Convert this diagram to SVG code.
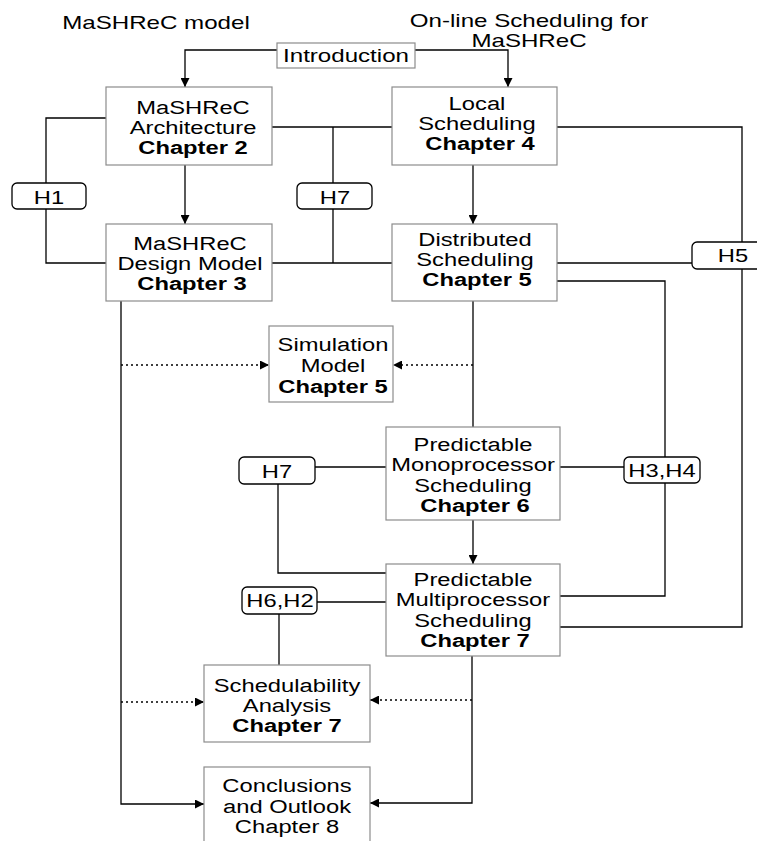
<svg xmlns="http://www.w3.org/2000/svg" width="757" height="841" viewBox="0 0 757 841">
  <style>
    .box { fill: #fff; stroke: #8c8c8c; stroke-width: 1.2; }
    .hyp { fill: #fff; stroke: #000; stroke-width: 1.3; }
    .ln { fill: none; stroke: #000; stroke-width: 1.3; }
    .dot { fill: none; stroke: #000; stroke-width: 1.3; stroke-dasharray: 2 3; }
    text { font-family: "Liberation Sans", Arial, sans-serif; font-size: 18px; fill: #000; text-anchor: middle; }
    .b { font-weight: bold; }
  </style>
  <defs>
    <marker id="arr" viewBox="0 0 10 10" refX="10" refY="5" markerWidth="9" markerHeight="9" markerUnits="userSpaceOnUse" orient="auto">
      <path d="M0,0 L10,5 L0,10 Z" fill="#000"/>
    </marker>
  </defs>

  <rect width="757" height="841" fill="#fff"/>

  <!-- column headings -->
  <g id="headings">
    <text transform="translate(156 29) scale(1.34 1)">MaSHReC model</text>
    <text transform="translate(529 27) scale(1.34 1)">On-line Scheduling for</text>
    <text transform="translate(529 47) scale(1.34 1)">MaSHReC</text>
  </g>

  <!-- connectors -->
  <g id="connectors">
    <!-- introduction to both columns -->
    <polyline class="ln" points="277,50 185,50 185,87" marker-end="url(#arr)"/>
    <polyline class="ln" points="415,50 508,50 508,87" marker-end="url(#arr)"/>
    <!-- chapter 2 -> 3, chapter 4 -> 5 -->
    <line class="ln" x1="185" y1="165" x2="185" y2="224" marker-end="url(#arr)"/>
    <line class="ln" x1="473" y1="165" x2="473" y2="224" marker-end="url(#arr)"/>
    <!-- H1 loop -->
    <polyline class="ln" points="106,118 46,118 46,183"/>
    <polyline class="ln" points="46,209 46,263 106,263"/>
    <!-- H7 upper -->
    <line class="ln" x1="272" y1="127" x2="392" y2="127"/>
    <line class="ln" x1="333" y1="127" x2="333" y2="183"/>
    <line class="ln" x1="333" y1="209" x2="333" y2="263"/>
    <line class="ln" x1="272" y1="263" x2="392" y2="263"/>
    <!-- H5 -->
    <polyline class="ln" points="557,127 742,127 742,242"/>
    <line class="ln" x1="557" y1="263" x2="692" y2="263"/>
    <polyline class="ln" points="742,269 742,627 560,627"/>
    <!-- H3,H4 -->
    <polyline class="ln" points="557,281 665,281 665,457"/>
    <polyline class="ln" points="665,483 665,596 560,596"/>
    <line class="ln" x1="560" y1="467" x2="624" y2="467"/>
    <!-- distributed -> monoprocessor -> multiprocessor -->
    <line class="ln" x1="473" y1="301" x2="473" y2="427"/>
    <line class="ln" x1="473" y1="520" x2="473" y2="564" marker-end="url(#arr)"/>
    <!-- H7 lower -->
    <line class="ln" x1="315" y1="467" x2="386" y2="467"/>
    <polyline class="ln" points="278,484 278,573 386,573"/>
    <!-- H6,H2 -->
    <line class="ln" x1="317" y1="602" x2="386" y2="602"/>
    <line class="ln" x1="279" y1="614" x2="279" y2="665"/>
    <!-- design model column to conclusions -->
    <polyline class="ln" points="121,301 121,804 204,804" marker-end="url(#arr)"/>
    <polyline class="ln" points="472,656 472,803 370,803" marker-end="url(#arr)"/>
    <!-- dotted feeds -->
    <line class="dot" x1="121" y1="365" x2="269" y2="365" marker-end="url(#arr)"/>
    <line class="dot" x1="473" y1="365" x2="393" y2="365" marker-end="url(#arr)"/>
    <line class="dot" x1="121" y1="702" x2="204" y2="702" marker-end="url(#arr)"/>
    <line class="dot" x1="472" y1="700" x2="370" y2="700" marker-end="url(#arr)"/>
  </g>

  <g id="introduction">
    <rect class="box" x="277" y="43" width="138" height="25"/>
    <text transform="translate(346 62) scale(1.34 1)">Introduction</text>
  </g>

  <g id="ch2">
    <rect class="box" x="106" y="87" width="166" height="78"/>
    <text transform="translate(193 114) scale(1.32 1)">MaSHReC</text>
    <text transform="translate(193 134) scale(1.32 1)">Architecture</text>
    <text class="b" transform="translate(193 154) scale(1.32 1)">Chapter 2</text>
  </g>

  <g id="ch4">
    <rect class="box" x="392" y="87" width="165" height="78"/>
    <text transform="translate(477 110) scale(1.32 1)">Local</text>
    <text transform="translate(477 130) scale(1.32 1)">Scheduling</text>
    <text class="b" transform="translate(480 150) scale(1.32 1)">Chapter 4</text>
  </g>

  <g id="ch3">
    <rect class="box" x="106" y="224" width="166" height="77"/>
    <text transform="translate(190 250) scale(1.32 1)">MaSHReC</text>
    <text transform="translate(190 270) scale(1.32 1)">Design Model</text>
    <text class="b" transform="translate(192 290) scale(1.32 1)">Chapter 3</text>
  </g>

  <g id="ch5">
    <rect class="box" x="392" y="224" width="165" height="77"/>
    <text transform="translate(475 246) scale(1.32 1)">Distributed</text>
    <text transform="translate(475 266) scale(1.32 1)">Scheduling</text>
    <text class="b" transform="translate(477 286) scale(1.32 1)">Chapter 5</text>
  </g>

  <g id="h1">
    <rect class="hyp" x="12" y="183" width="74" height="26" rx="5"/>
    <text transform="translate(49 204) scale(1.32 1)">H1</text>
  </g>

  <g id="h7-upper">
    <rect class="hyp" x="297" y="183" width="75" height="26" rx="5"/>
    <text transform="translate(335 204) scale(1.32 1)">H7</text>
  </g>

  <g id="h5">
    <rect class="hyp" x="692" y="242" width="80" height="27" rx="5"/>
    <text transform="translate(733 262) scale(1.32 1)">H5</text>
  </g>

  <g id="simulation">
    <rect class="box" x="269" y="326" width="124" height="76"/>
    <text transform="translate(333 351) scale(1.32 1)">Simulation</text>
    <text transform="translate(333 372) scale(1.32 1)">Model</text>
    <text class="b" transform="translate(333 393) scale(1.32 1)">Chapter 5</text>
  </g>

  <g id="ch6">
    <rect class="box" x="386" y="427" width="174" height="93"/>
    <text transform="translate(473 451) scale(1.32 1)">Predictable</text>
    <text transform="translate(473 471) scale(1.32 1)">Monoprocessor</text>
    <text transform="translate(473 492) scale(1.32 1)">Scheduling</text>
    <text class="b" transform="translate(475 512) scale(1.32 1)">Chapter 6</text>
  </g>

  <g id="h7-lower">
    <rect class="hyp" x="239" y="457" width="76" height="27" rx="5"/>
    <text transform="translate(277 478) scale(1.32 1)">H7</text>
  </g>

  <g id="h3h4">
    <rect class="hyp" x="624" y="457" width="76" height="26" rx="5"/>
    <text transform="translate(662 477) scale(1.32 1)">H3,H4</text>
  </g>

  <g id="ch7">
    <rect class="box" x="386" y="564" width="174" height="92"/>
    <text transform="translate(473 586) scale(1.32 1)">Predictable</text>
    <text transform="translate(473 606) scale(1.32 1)">Multiprocessor</text>
    <text transform="translate(473 627) scale(1.32 1)">Scheduling</text>
    <text class="b" transform="translate(475 647) scale(1.32 1)">Chapter 7</text>
  </g>

  <g id="h6h2">
    <rect class="hyp" x="242" y="587" width="75" height="27" rx="5"/>
    <text transform="translate(280 607) scale(1.32 1)">H6,H2</text>
  </g>

  <g id="schedulability">
    <rect class="box" x="204" y="665" width="166" height="77"/>
    <text transform="translate(287 692) scale(1.32 1)">Schedulability</text>
    <text transform="translate(287 712) scale(1.32 1)">Analysis</text>
    <text class="b" transform="translate(287 732) scale(1.32 1)">Chapter 7</text>
  </g>

  <g id="conclusions">
    <rect class="box" x="204" y="767" width="166" height="90"/>
    <text transform="translate(287 792) scale(1.32 1)">Conclusions</text>
    <text transform="translate(287 813) scale(1.32 1)">and Outlook</text>
    <text transform="translate(287 833) scale(1.32 1)">Chapter 8</text>
  </g>
</svg>
